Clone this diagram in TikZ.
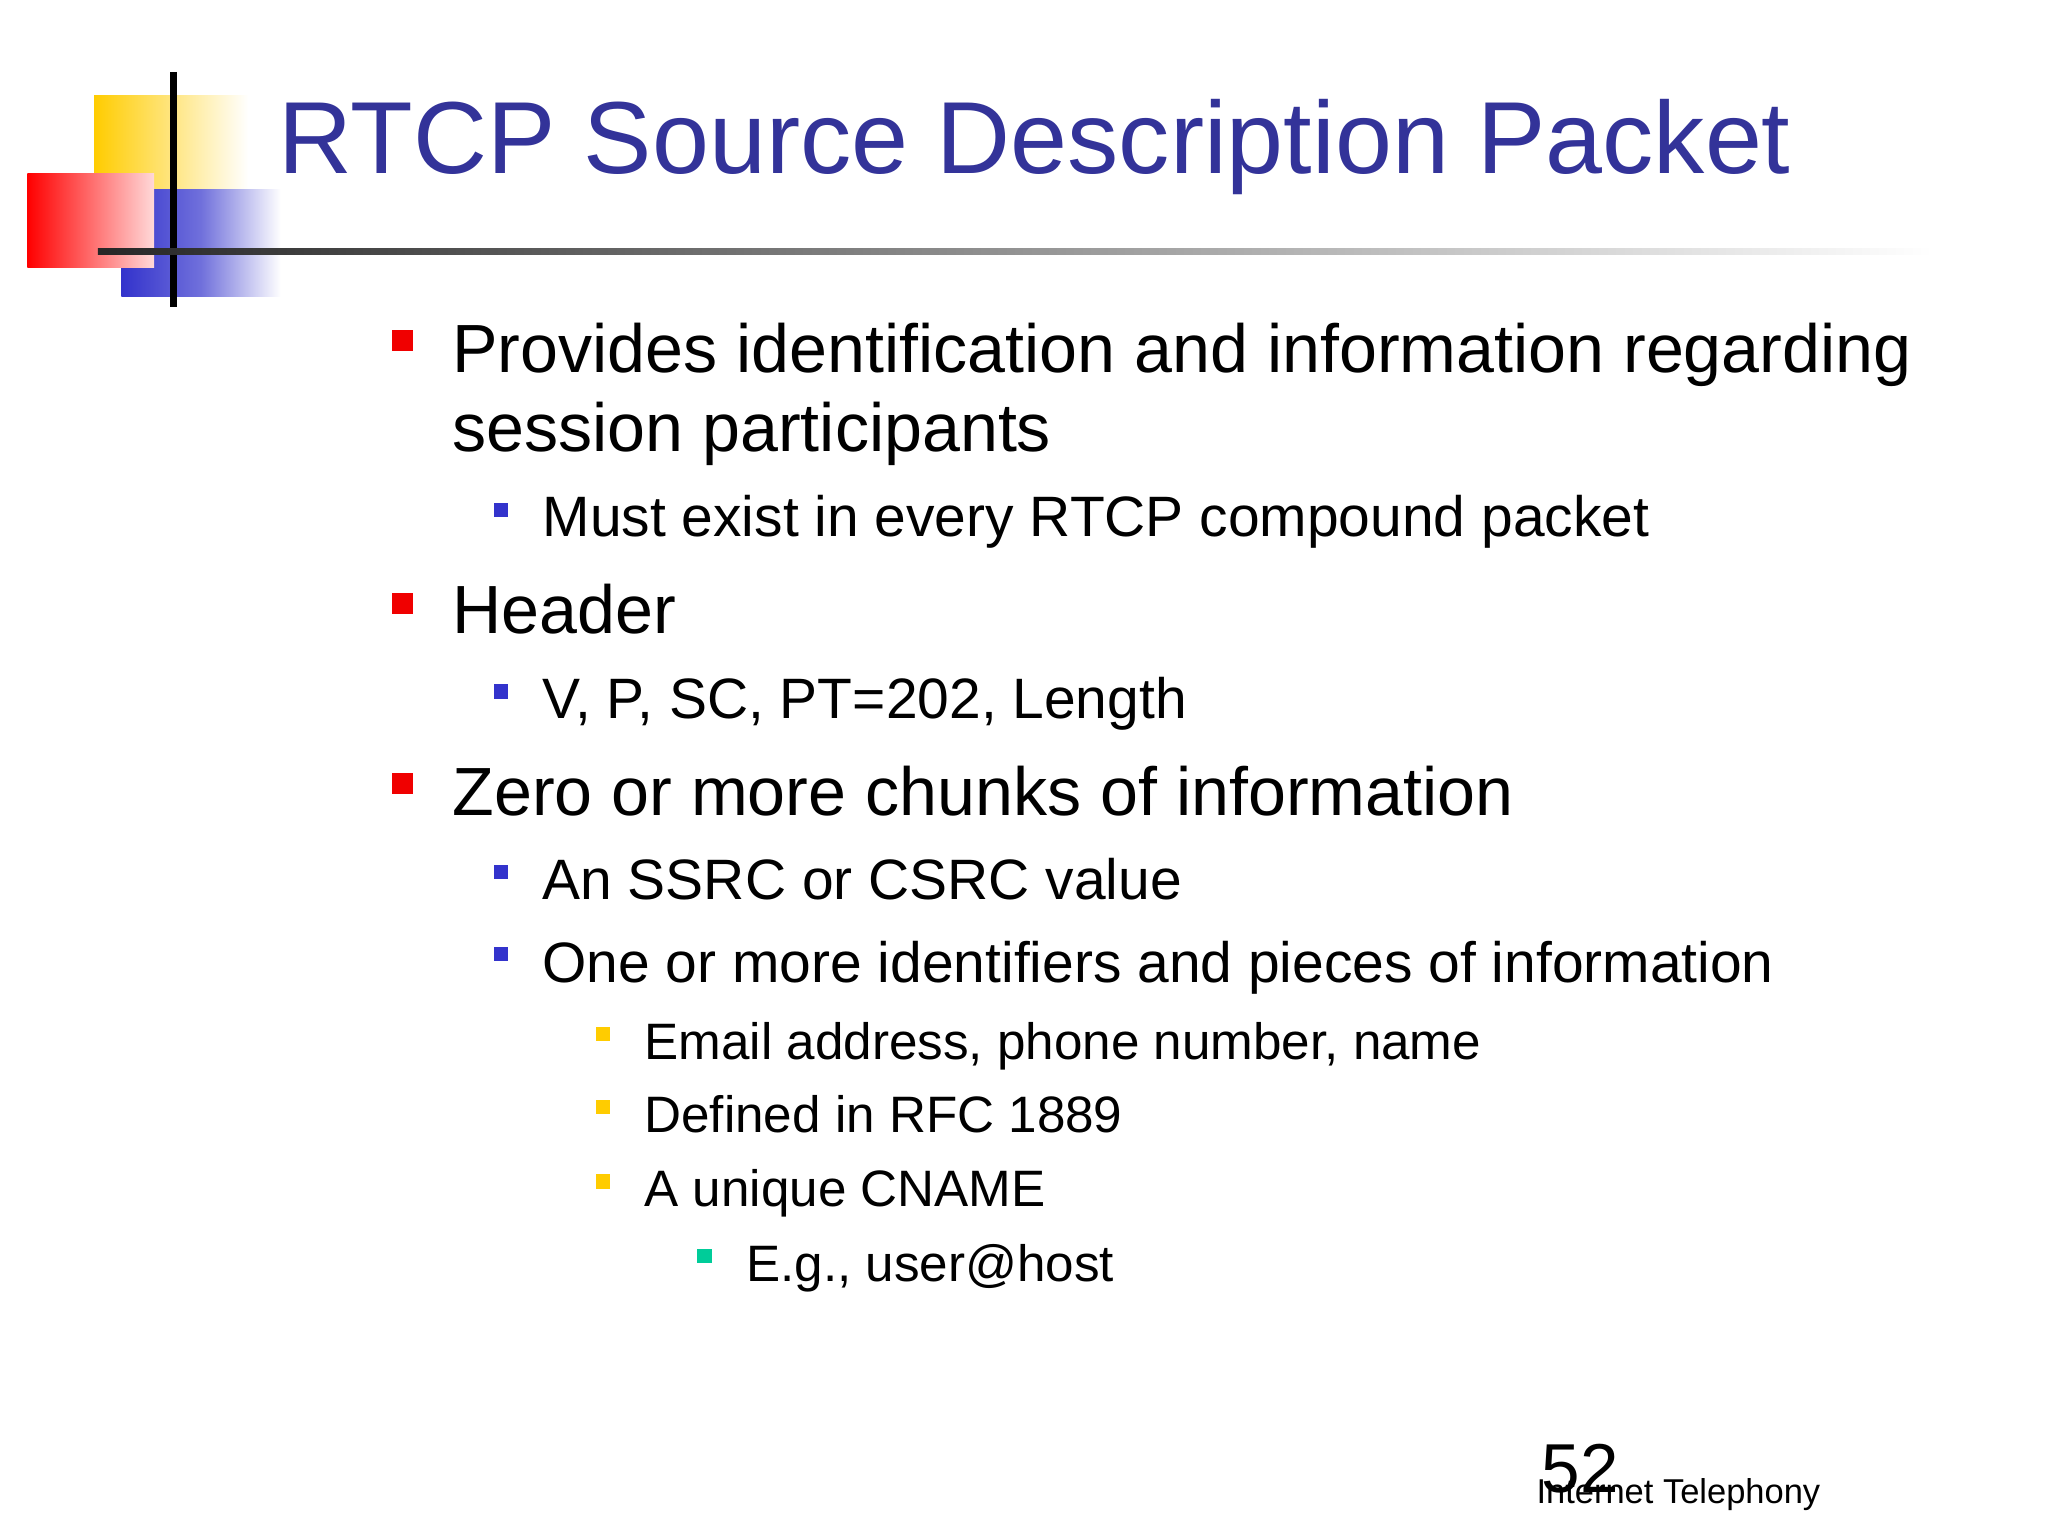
\documentclass[tikz,border=0pt]{standalone}
\usepackage{fontspec}
\setmainfont{Liberation Sans}
\definecolor{ttl}{HTML}{333399}
\definecolor{bred}{HTML}{F00000}
\definecolor{bblue}{HTML}{3333CC}
\definecolor{byel}{HTML}{FFCC00}
\definecolor{bteal}{HTML}{00CC99}
\tikzset{
 l1/.style={anchor=base west,font=\fontsize{26.1}{30}\selectfont,inner sep=0},
 l2/.style={anchor=base west,font=\fontsize{21.8}{26}\selectfont,inner sep=0},
 l3/.style={anchor=base west,font=\fontsize{19.6}{24}\selectfont,inner sep=0},
}
\begin{document}
\begin{tikzpicture}[x=0.5pt,y=-0.5pt]
\useasboundingbox (0,0) rectangle (1568,1176);
\fill[white] (0,0) rectangle (1568,1176);
% logo
\shade[left color=byel,right color=white] (72,73) rectangle (190,190);
\shade[left color=bblue,right color=white,middle color=bblue!70] (93,145) rectangle (215,227);
\shade[shading angle=-30,left color=red,right color=red!15] (21,133) rectangle (118,205);
\draw[line width=2.5pt] (133,55) -- (133,235);
\shade[left color=black!85,right color=white] (75,190) rectangle (1480,195);
% title
\node[anchor=base west,inner sep=0,text=ttl,font=\fontsize{39.2}{44}\selectfont] (title) at (213,133) {RTCP Source Description Packet};
% bullets
\foreach \y in {253,454,592} \fill[bred] (300,\y) rectangle +(16,16);
\foreach \y in {385,524,662,725} \fill[bblue] (378,\y) rectangle +(11,11);
\foreach \y in {786,842,899} \fill[byel] (456,\y) rectangle +(11,11);
\fill[bteal] (534,956) rectangle +(11,11);
\node[l1] (a) at (346,285) {Provides identification and information regarding};
\node[l1] (a2) at (346,346) {session participants};
\node[l2] (b) at (415,411) {Must exist in every RTCP compound packet};
\node[l1] (c) at (346,485) {Header};
\node[l2] (d) at (415,550) {V, P, SC, PT=202, Length};
\node[l1] (e) at (346,624) {Zero or more chunks of information};
\node[l2] (f) at (415,689) {An SSRC or CSRC value};
\node[l2] (g) at (415,752) {One or more identifiers and pieces of information};
\node[l3] (h) at (493,811) {Email address, phone number, name};
\node[l3] (i) at (493,867) {Defined in RFC 1889};
\node[l3] (j) at (493,924) {A unique CNAME};
\node[l3] (k) at (571,981) {E.g., user@host};
\node[anchor=base west,inner sep=0,font=\fontsize{26.5}{30}\selectfont] (num) at (1180,1143) {52};
\node[anchor=base west,inner sep=0,font=\fontsize{13.2}{15}\selectfont] (foot) at (1176,1151) {Internet Telephony};
\end{tikzpicture}
\end{document}
